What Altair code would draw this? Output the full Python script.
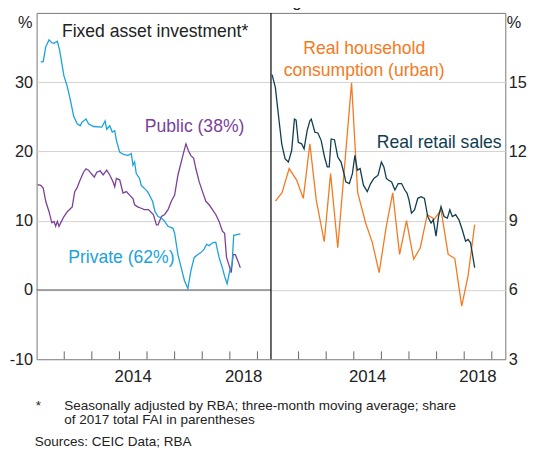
import altair as alt
import pandas as pd

# ---------------- data ----------------
priv_year = [2011.15, 2011.24, 2011.33, 2011.45, 2011.55, 2011.63, 2011.75, 2011.83, 2011.99,
             2012.11, 2012.23, 2012.34, 2012.47, 2012.58, 2012.64, 2012.79, 2012.88,
             2013.06, 2013.36, 2013.48, 2013.54, 2013.65, 2013.74, 2013.83, 2013.89,
             2014.01, 2014.13, 2014.31, 2014.43, 2014.49, 2014.55, 2014.61, 2014.73, 2014.79, 2014.90,
             2015.02, 2015.20, 2015.29, 2015.40, 2015.52, 2015.64, 2015.76, 2015.94,
             2016.00, 2016.12, 2016.24, 2016.36, 2016.48, 2016.59, 2016.71, 2016.83, 2016.95,
             2017.07, 2017.16, 2017.25, 2017.37, 2017.49, 2017.61, 2017.73, 2017.81, 2017.90,
             2018.00, 2018.08, 2018.14, 2018.26, 2018.38]
priv_val = [32.9, 33.0, 35.1, 36.1, 35.7, 35.6, 35.9, 34.7, 30.9,
            29.4, 27.3, 25.1, 24.0, 23.7, 24.2, 24.7, 24.0,
            23.6, 23.5, 24.4, 23.2, 23.7, 22.8, 23.0, 21.6,
            19.9, 19.6, 19.4, 19.7, 18.0, 18.5, 16.8, 16.1, 15.1, 14.7,
            14.2, 12.8, 11.3, 10.6, 10.4, 9.9, 9.2, 8.9,
            8.2, 5.1, 3.2, 1.3, 0.2, 2.8, 4.7, 5.1, 5.4,
            5.9, 6.6, 6.4, 6.8, 6.9, 4.7, 3.2, 2.0, 0.9,
            2.8, 3.7, 7.9, 8.0, 8.1]

pub_year = [2011.04, 2011.15, 2011.24, 2011.33, 2011.45, 2011.55, 2011.63, 2011.69, 2011.75, 2011.81, 2011.90, 2011.99,
            2012.11, 2012.29, 2012.38, 2012.46, 2012.58, 2012.70, 2012.79, 2012.88,
            2013.00, 2013.09, 2013.18, 2013.30, 2013.41, 2013.54, 2013.65, 2013.77, 2013.83, 2013.89,
            2014.01, 2014.13, 2014.25, 2014.37, 2014.49, 2014.55, 2014.66, 2014.79, 2014.90,
            2015.05, 2015.23, 2015.34, 2015.40, 2015.52, 2015.64, 2015.76, 2015.88,
            2016.00, 2016.12, 2016.24, 2016.33, 2016.41, 2016.50, 2016.59, 2016.69, 2016.77, 2016.89,
            2017.01, 2017.13, 2017.25, 2017.37, 2017.49, 2017.61, 2017.73, 2017.81, 2017.88, 2017.96,
            2018.05, 2018.12, 2018.20, 2018.29, 2018.38]
pub_val = [15.2, 15.1, 14.7, 12.8, 11.3, 9.7, 9.9, 9.2, 9.9, 9.2, 9.9, 10.6,
           11.3, 12.0, 14.2, 14.7, 15.9, 17.0, 17.5, 17.3,
           16.7, 16.3, 17.0, 17.2, 16.6, 17.3, 16.6, 15.6, 14.9, 16.1,
           15.9, 14.0, 14.2, 13.7, 13.2, 12.3, 12.0, 11.8, 11.6,
           11.6, 10.9, 9.4, 9.4, 10.6, 10.9, 11.6, 12.8,
           13.7, 16.6, 18.5, 19.9, 21.1, 20.1, 19.4, 19.0, 17.5, 15.6,
           14.2, 12.8, 12.3, 11.6, 10.9, 9.9, 8.5, 8.2, 4.7, 3.7,
           2.5, 5.1, 5.1, 4.2, 3.2]

retail_year = [2011.04, 2011.16, 2011.28, 2011.39, 2011.51, 2011.63, 2011.75, 2011.85, 2011.91, 2011.99,
               2012.11, 2012.20, 2012.31, 2012.41, 2012.46, 2012.59, 2012.70, 2012.82, 2012.94,
               2013.04, 2013.11, 2013.18, 2013.30, 2013.42, 2013.54, 2013.66, 2013.71, 2013.84, 2013.95,
               2014.04, 2014.13, 2014.23, 2014.35, 2014.49, 2014.61, 2014.73, 2014.88,
               2015.00, 2015.09, 2015.18, 2015.25, 2015.37, 2015.49, 2015.61, 2015.73, 2015.85, 2015.93,
               2016.00, 2016.09, 2016.20, 2016.32, 2016.44, 2016.56, 2016.68, 2016.80, 2016.88, 2016.98,
               2017.07, 2017.16, 2017.27, 2017.39, 2017.48, 2017.57, 2017.69, 2017.81, 2017.93,
               2018.05, 2018.14, 2018.23, 2018.31, 2018.38]
retail_val = [15.33, 14.76, 13.47, 12.33, 11.69, 11.54, 12.04, 13.40, 13.36, 12.40,
              12.33, 12.11, 12.90, 13.33, 13.40, 12.83, 12.80, 12.47, 11.76,
              11.33, 11.33, 12.54, 12.51, 11.76, 11.54, 10.97, 10.68, 10.61, 11.04,
              11.83, 11.19, 11.26, 10.54, 10.26, 10.61, 10.83, 10.97,
              11.54, 11.33, 10.83, 10.76, 10.68, 10.33, 10.61, 10.61, 10.33, 10.19,
              9.90, 9.33, 9.47, 9.97, 10.04, 9.97, 9.18, 8.90, 9.04, 8.33,
              9.18, 9.61, 9.18, 9.11, 9.47, 9.18, 9.26, 9.04, 8.61,
              8.11, 8.19, 8.04, 7.47, 6.97]

cons_year = [2011.16, 2011.40, 2011.66, 2011.93, 2012.17, 2012.41, 2012.64, 2012.93, 2013.16, 2013.42,
             2013.92, 2014.14, 2014.43, 2014.67, 2014.92, 2015.17, 2015.41, 2015.66, 2015.91, 2016.17,
             2016.41, 2016.66, 2016.92, 2017.16, 2017.42, 2017.66, 2017.91, 2018.14, 2018.38]
cons_val = [9.85, 10.21, 11.26, 10.76, 9.97, 12.33, 9.90, 8.09, 11.04, 7.83,
            14.97, 10.23, 8.90, 8.06, 6.75, 8.7, 10.21, 7.54, 9.0, 7.33,
            7.83, 9.26, 9.07, 9.47, 7.54, 7.36, 5.30, 6.61, 8.83]

left_ticks = [-10, 0, 10, 20, 30]
right_ticks = [3, 6, 9, 12, 15]
year_ticks = [2012, 2013, 2014, 2015, 2016, 2017, 2018, 2019]
year_labels = [2014, 2018]

# ---------------- layout constants ----------------
W, H = 475, 351
X0 = 2011.0
P = 8.49  # years shown in each panel
FONT = "Liberation Sans"
BLUE, PURPLE, ORANGE, TEAL = "#1ba1dd", "#7c3f98", "#f47a22", "#0f3d4f"
TXT = "#222222"
LBL = 17.8  # series-label font size

xs = alt.Scale(domain=[X0, X0 + 2 * P], nice=False, zero=False)
yL = alt.Scale(domain=[-10, 40], nice=False, zero=False)
yR = alt.Scale(domain=[3, 18], nice=False, zero=False)

axL = alt.Axis(
    values=left_ticks, orient="left", title=None, domain=False, ticks=False,
    labelExpr="'' + datum.value",
    labelFont=FONT, labelFontSize=16.5, labelColor=TXT, labelPadding=4,
    grid=True, gridColor="#d2d2d2", gridWidth=1,
    gridOpacity={"condition": {"test": "datum.value === -10", "value": 0}, "value": 1},
)
axR = alt.Axis(
    values=right_ticks, orient="right", title=None, domain=False, ticks=False,
    labelFont=FONT, labelFontSize=16.5, labelColor=TXT, labelPadding=3, grid=False,
)

def series(years, vals, color, shift, yscale, axis):
    df = pd.DataFrame({"x": [y + shift for y in years], "v": vals})
    return alt.Chart(df).mark_line(strokeWidth=1.3, color=color).encode(
        x=alt.X("x:Q", scale=xs, axis=None),
        y=alt.Y("v:Q", scale=yscale, axis=axis),
    )

zero_df = pd.DataFrame({"x": [X0], "x2": [X0 + P], "v": [0]})
zero_rule = alt.Chart(zero_df).mark_rule(color="#555555", strokeWidth=1).encode(
    x=alt.X("x:Q", scale=xs, axis=None), x2="x2:Q",
    y=alt.Y("v:Q", scale=yL, axis=axL),
)
left_group = alt.layer(
    zero_rule,
    series(pub_year, pub_val, PURPLE, 0, yL, axL),
    series(priv_year, priv_val, BLUE, 0, yL, axL),
)
right_group = alt.layer(
    series(cons_year, cons_val, ORANGE, P, yR, axR),
    series(retail_year, retail_val, TEAL, P, yR, axR),
)

# ---------------- frame pieces ----------------
tick_df = pd.DataFrame({"x": year_ticks + [y + P for y in year_ticks]})
lab_df = pd.DataFrame({"x": [y + 0.5 for y in year_labels] + [y + 0.5 + P for y in year_labels],
                       "t": [str(y) for y in year_labels] * 2})
div_df = pd.DataFrame({"x": [X0 + P]})

ticks = alt.Chart(tick_df).mark_rule(color="#666666", strokeWidth=1).encode(
    x=alt.X("x:Q", scale=xs, axis=None), y=alt.value(H), y2=alt.value(H - 8),
)
divider = alt.Chart(div_df).mark_rule(color="#000000", strokeWidth=1.2).encode(
    x=alt.X("x:Q", scale=xs, axis=None), y=alt.value(0), y2=alt.value(H),
)
xlabels = alt.Chart(lab_df).mark_text(font=FONT, fontSize=17, color=TXT, baseline="alphabetic").encode(
    x=alt.X("x:Q", scale=xs, axis=None), y=alt.value(H + 23), text="t:N",
)

def note(txt, x, y, color=TXT, size=LBL, align="left"):
    return alt.Chart(pd.DataFrame({"t": [txt]})).mark_text(
        font=FONT, fontSize=size, color=color, align=align, baseline="alphabetic"
    ).encode(x=alt.value(x), y=alt.value(y), text="t:N")

texts = [
    note("Year-ended growth", 238.5, -6, size=17, align="center"),
    note("%", -11.5, 15, size=16.5, align="center"),
    note("%", 476.5, 15, size=16.5),
    note("Fixed asset investment*", 25.7, 24),
    note("Public (38%)", 109.7, 120.5, color=PURPLE),
    note("Private (62%)", 32, 253, color=BLUE),
    note("Real household", 332, 41.5, color=ORANGE, align="center"),
    note("consumption (urban)", 332, 63.5, color=ORANGE, align="center"),
    note("Real retail sales", 344.7, 136.5, color=TEAL),
    note("*", -1, 402, size=13.7),
    note("Seasonally adjusted by RBA; three-month moving average; share", 28, 402, size=13.7),
    note("of 2017 total FAI in parentheses", 28, 417, size=13.7),
    note("Sources: CEIC Data; RBA", -2, 439, size=13.7),
]

chart = alt.layer(
    left_group, right_group, ticks, divider, xlabels, *texts
).resolve_scale(y="independent").properties(
    width=W, height=H,
    autosize=alt.AutoSizeParams(type="none"),
    padding={"left": 29, "top": 2, "right": 24, "bottom": 89},
).configure_view(stroke="#777777", strokeWidth=1)

chart.save("out.html", embed_options={"renderer": "svg", "actions": False})
